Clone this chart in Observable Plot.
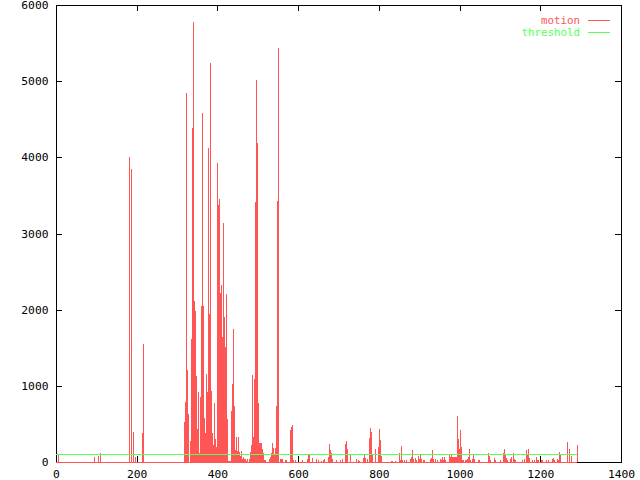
<!DOCTYPE html>
<html><head><meta charset="utf-8">
<script src="https://cdn.jsdelivr.net/npm/d3@7"></script>
<script src="https://cdn.jsdelivr.net/npm/@observablehq/plot@0.6"></script>
<style>body{margin:0;background:#fff}svg{display:block}</style>
</head><body><div id="chart"></div>
<script>
const frames = [4,93,105,108,180,182,185,187,190,192,195,212,215,
316,319,321,324,326,331,334,336,339,341,344,346,349,351,354,356,359,361,364,366,369,371,374,376,379,381,384,386,388,391,393,396,398,401,403,406,408,411,413,416,418,421,423,426,428,431,433,436,438,441,443,446,448,451,453,456,458,461,463,465,468,470,473,478,480,483,485,488,490,493,495,498,500,503,505,508,510,513,515,518,528,530,533,535,537,540,542,545,547,550,555,557,560,567,570,580,582,585,587,592,
609,622,624,627,634,644,649,657,662,664,674,676,679,681,684,694,704,709,716,719,721,729,743,748,751,761,763,766,771,776,778,781,783,791,798,801,803,805,
830,833,840,850,853,855,858,863,868,877,880,882,885,890,892,897,900,902,905,910,912,927,930,932,935,940,944,952,954,957,959,962,964,974,977,979,982,984,987,989,992,994,997,999,
1002,1004,1007,1009,1014,1016,1019,1021,1024,1026,1031,1034,1036,1046,1049,1071,1074,1076,1086,1088,1101,1108,1111,1113,1116,1118,1126,1128,1133,1136,1138,1155,1160,1165,1168,1170,1173,1180,1185,1190,1193,1195,
1203,1205,1215,1218,1230,1232,1235,1242,1245,1247,1250,1265,1267,1270,1272,1275,1292];
const motion = [110,65,85,120,910,4010,3850,1077,253,394,65,385,1550,
525,788,4840,1208,630,280,1620,4385,5780,2113,1980,1130,430,920,122,857,2050,4586,2050,578,385,1155,920,4123,1943,5240,936,385,227,780,298,193,3930,3380,3457,2218,2328,1645,3138,1903,1514,2206,565,18,18,10,674,1024,1750,735,158,332,149,332,131,79,140,44,70,40,44,18,40,44,131,227,1146,332,1094,3414,5015,4190,780,245,245,245,166,122,20,20,44,70,122,245,183,87,183,735,3430,5430,40,40,40,26,26,420,463,490,26,20,
26,44,92,92,48,35,20,13,26,35,70,236,158,122,35,20,20,35,236,276,166,100,44,26,13,52,92,52,35,311,451,394,88,171,197,429,289,79,
13,13,13,122,26,210,26,20,26,44,70,158,44,57,26,79,44,88,35,22,30,44,57,158,44,35,22,35,26,61,26,70,20,92,61,88,70,70,70,61,70,604,298,166,
420,193,26,20,20,26,44,61,166,20,35,96,39,20,26,122,79,22,52,26,20,114,171,92,48,26,35,61,122,39,22,20,35,158,100,171,48,26,20,70,20,20,
20,26,26,26,39,52,20,44,26,131,88,158,263,175,26,79,223];
const thresholdValue = 100;
const xTicks = [0,200,400,600,800,1000,1200,1400];
const yTicks = [0,1000,2000,3000,4000,5000,6000];
const seriesNames = ["motion","threshold"];
const seriesColors = ["#ff5555","#55ff55"];

const data = frames.map((f,i)=>({frame:f, value:motion[i]}));
const lastFrame = d3.max(frames);

const W = 640, H = 480, mL = 56, mR = 19, mT = 5, mB = 18;
const fw = W - mL - mR, fh = H - mT - mB, tk = 6;
const font = "DejaVu Sans Mono";
const fs = 11.3;

const chart = Plot.plot({
  width: W, height: H,
  marginLeft: mL, marginRight: mR, marginTop: mT, marginBottom: mB,
  style: {fontFamily: font, fontSize: fs + "px", background: "#fff", color: "#000"},
  x: {domain: [0, 1400], axis: null},
  y: {domain: [0, 6000], axis: null},
  marks: [
    Plot.frame({stroke: "#000", shapeRendering: "crispEdges"}),
    Plot.ruleX(xTicks, {insetTop: fh - tk, stroke: "#000", shapeRendering: "crispEdges"}),
    Plot.ruleX(xTicks, {insetBottom: fh - tk, stroke: "#000", shapeRendering: "crispEdges"}),
    Plot.ruleY(yTicks, {insetRight: fw - tk, stroke: "#000", shapeRendering: "crispEdges"}),
    Plot.ruleY(yTicks, {insetLeft: fw - tk, stroke: "#000", shapeRendering: "crispEdges"}),
    Plot.axisX({ticks: xTicks, tickSize: 0, tickPadding: 7, tickFormat: d => String(d), fontSize: fs, label: null}),
    Plot.axisY({ticks: yTicks, tickSize: 0, tickPadding: 8, tickFormat: d => String(d), fontSize: fs, label: null}),
    Plot.ruleX(data, {x: "frame", y: "value", stroke: seriesColors[0], strokeWidth: 1, shapeRendering: "crispEdges"}),
    Plot.ruleY([0], {x1: 0, x2: lastFrame, stroke: seriesColors[0], shapeRendering: "crispEdges"}),
    Plot.ruleY([thresholdValue], {x1: 0, x2: lastFrame, stroke: seriesColors[1], shapeRendering: "crispEdges"})
  ]
});
document.getElementById("chart").appendChild(chart);

// legend (top right, inside the frame, gnuplot style)
const svg = d3.select(chart);
const lg = svg.append("g").attr("font-family", font).attr("font-size", 10.8);
seriesNames.forEach((name, i) => {
  const cy = 20 + i * 12;
  lg.append("text").attr("x", 580).attr("y", cy).attr("dy", "0.35em")
    .attr("text-anchor", "end").attr("fill", seriesColors[i]).text(name);
  lg.append("line").attr("x1", 588).attr("x2", 610).attr("y1", cy).attr("y2", cy)
    .attr("stroke", seriesColors[i]).attr("shape-rendering", "crispEdges");
});
</script>
</body></html>
